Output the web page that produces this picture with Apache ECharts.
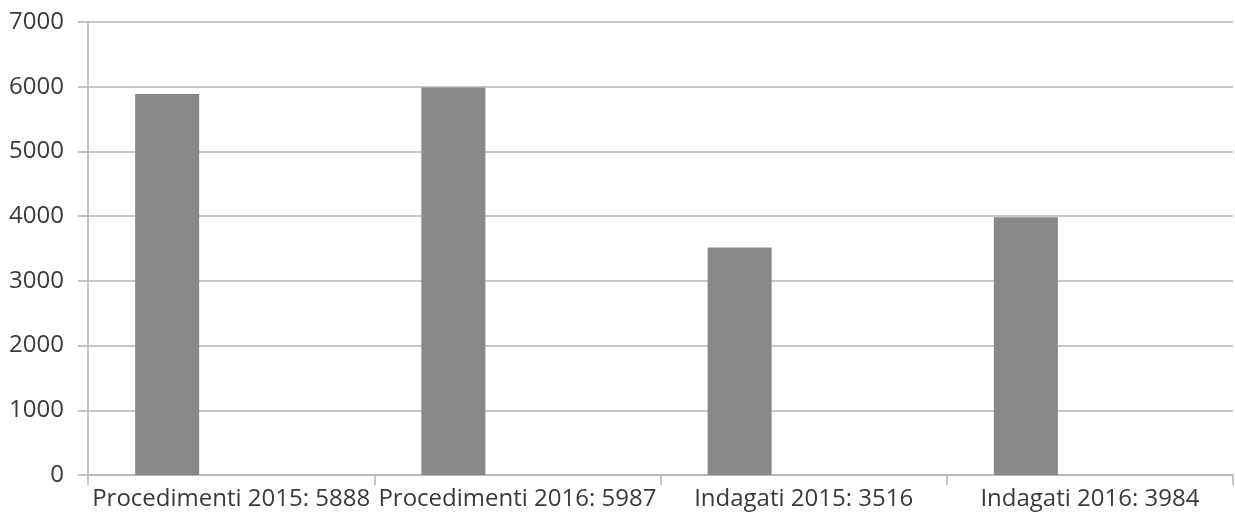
<!DOCTYPE html>
<html>
<head>
<meta charset="utf-8">
<script src="https://cdn.jsdelivr.net/npm/echarts@6/dist/echarts.min.js"></script>
<style>
  html, body { margin: 0; padding: 0; background: #ffffff; }
  #chart { width: 1235px; height: 527px; }
</style>
</head>
<body>
<div id="chart"></div>
<script>
// Categories and counts
const categories = [
  'Procedimenti 2015: 5888',
  'Procedimenti 2016: 5987',
  'Indagati 2015: 3516',
  'Indagati 2016: 3984'
];
const counts = [5888, 5987, 3516, 3984];
// Two empty companion series keep the bar in the left slot of each group
const emptyA = [null, null, null, null];
const emptyB = [null, null, null, null];
const yTicks = { min: 0, max: 7000, step: 1000 };

const textColor = '#3a3a3a';
const lineColor = '#b4b4b4';
const font = '"Open Sans", "Liberation Sans", sans-serif';

const chart = echarts.init(document.getElementById('chart'), null, { renderer: 'canvas' });
chart.setOption({
  animation: false,
  backgroundColor: '#ffffff',
  grid: { left: 88, right: 2, top: 22, bottom: 52, containLabel: false },
  xAxis: {
    type: 'category',
    data: categories,
    boundaryGap: true,
    axisLine: { lineStyle: { color: lineColor, width: 1.5 } },
    axisTick: { show: true, length: 10, alignWithLabel: false, lineStyle: { color: lineColor, width: 1.5 } },
    axisLabel: { color: textColor, fontFamily: font, fontSize: 24, margin: 12, interval: 0 },
    splitLine: { show: false }
  },
  yAxis: {
    type: 'value',
    min: yTicks.min,
    max: yTicks.max,
    interval: yTicks.step,
    axisLine: { show: true, lineStyle: { color: lineColor, width: 1.5 } },
    axisTick: { show: true, length: 10, lineStyle: { color: lineColor, width: 1.5 } },
    axisLabel: { color: textColor, fontFamily: font, fontSize: 24, margin: 24, formatter: v => String(v) },
    splitLine: { show: true, lineStyle: { color: lineColor, width: 1.5 } }
  },
  series: [
    { type: 'bar', data: counts, barWidth: 64, barGap: '0%', itemStyle: { color: '#888888' } },
    { type: 'bar', data: emptyA, barWidth: 64, barGap: '0%', itemStyle: { color: '#888888' } },
    { type: 'bar', data: emptyB, barWidth: 64, barGap: '0%', itemStyle: { color: '#888888' } }
  ]
});
</script>
</body>
</html>
